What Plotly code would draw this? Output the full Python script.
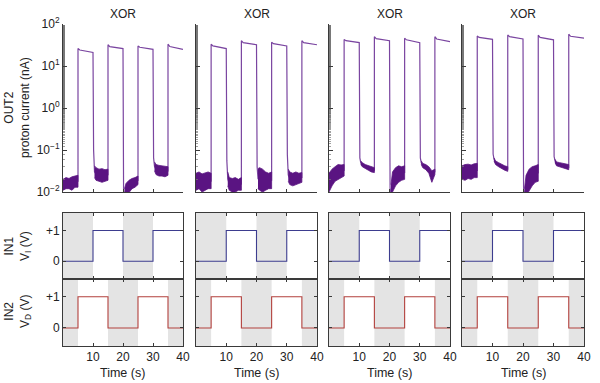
import math
import plotly.graph_objects as go

# ---------------- data ----------------
PANEL_TITLES = ["XOR", "XOR", "XOR", "XOR"]
TIME_TICKS = [10, 20, 30, 40]
LOG_TICKS = [0.01, 0.1, 1, 10, 100]
LOG_TICK_TEXT = ["10<sup>−2</sup>", "10<sup>−1</sup>", "10<sup>0</sup>", "10<sup>1</sup>", "10<sup>2</sup>"]

# inputs (step functions, value holds from T[k] to T[k+1])
IN1_T = [0, 10, 20, 30, 40]
IN1_V = [0, 1, 0, 1, 1]
IN2_T = [0, 5, 15, 25, 35, 40]
IN2_V = [0, 1, 0, 1, 0, 0]

# output current: high states
RISE_T = [5, 15, 25, 35]
FALL_T = [10, 20, 30, 40]
PEAK = [[26, 32, 30, 33], [33, 40, 37, 40], [43, 50, 46, 50], [52, 55, 54, 57]]
KNEE = [[24, 29, 28, 29], [30, 36, 34, 36], [40, 45, 42, 44], [48, 50, 48, 51]]
END = [[21, 26, 25, 25], [26, 32, 30, 32], [36, 40, 36, 38], [43, 44, 42, 46]]
TAIL = [[0.10, 0.008, 0.065], [0.055, 0.04, 0.077], [0.065, 0.008, 0.065], [0.08, 0.008, 0.07]]

# output current: noisy low states (envelope)
BAND_T = [[0, 1, 2, 3, 4, 5], [10.5, 11, 12, 13, 14, 15],
          [20.5, 21, 22, 23, 24, 25], [30.5, 31, 32, 33, 34, 35]]
BAND_HI = [
    [[0.020, 0.022, 0.021, 0.023, 0.024, 0.025], [0.042, 0.038, 0.035, 0.036, 0.034, 0.035],
     [0.012, 0.016, 0.019, 0.021, 0.022, 0.024], [0.052, 0.045, 0.043, 0.042, 0.040, 0.040]],
    [[0.028, 0.030, 0.027, 0.029, 0.030, 0.028], [0.030, 0.022, 0.021, 0.022, 0.020, 0.022],
     [0.036, 0.038, 0.035, 0.030, 0.028, 0.030], [0.035, 0.030, 0.028, 0.030, 0.028, 0.029]],
    [[0.028, 0.035, 0.040, 0.045, 0.044, 0.045], [0.055, 0.050, 0.045, 0.042, 0.040, 0.038],
     [0.015, 0.030, 0.038, 0.042, 0.040, 0.042], [0.055, 0.048, 0.045, 0.040, 0.032, 0.035]],
    [[0.042, 0.045, 0.046, 0.044, 0.047, 0.048], [0.065, 0.055, 0.050, 0.045, 0.042, 0.040],
     [0.012, 0.025, 0.035, 0.040, 0.042, 0.045], [0.060, 0.052, 0.050, 0.048, 0.046, 0.045]],
]
BAND_LO = [
    [[0.011, 0.012, 0.012, 0.011, 0.013, 0.013], [0.022, 0.019, 0.018, 0.017, 0.018, 0.019],
     [0.007, 0.008, 0.010, 0.012, 0.013, 0.015], [0.032, 0.026, 0.024, 0.024, 0.023, 0.025]],
    [[0.011, 0.012, 0.010, 0.011, 0.012, 0.012], [0.014, 0.011, 0.010, 0.010, 0.011, 0.011],
     [0.012, 0.011, 0.010, 0.011, 0.012, 0.012], [0.018, 0.015, 0.014, 0.015, 0.016, 0.017]],
    [[0.010, 0.014, 0.018, 0.020, 0.022, 0.024], [0.045, 0.040, 0.036, 0.033, 0.030, 0.029],
     [0.007, 0.010, 0.014, 0.017, 0.019, 0.020], [0.045, 0.038, 0.034, 0.028, 0.017, 0.026]],
    [[0.020, 0.019, 0.021, 0.020, 0.022, 0.022], [0.055, 0.045, 0.040, 0.036, 0.033, 0.031],
     [0.007, 0.008, 0.010, 0.014, 0.017, 0.018], [0.050, 0.042, 0.040, 0.038, 0.036, 0.034]],
]

# ---------------- layout geometry (page pixels) ----------------
W, H = 600, 383
X_PX = [(63, 183), (196, 317), (329, 450), (462, 584)]
Y_PX = [(24, 192), (213, 279), (279, 346)]
FONT = "Liberation Sans, Arial, sans-serif"
TXT = "#222222"
AXC = "#3a3a3a"
PURPLE = "#7a45a0"
BAND = "#5a1482"
BLUE = "#3d3d8f"
RED = "#b2403c"
SHADE = "#e4e4e4"


def px_x(x):
    return x / W


def px_y(y):
    return 1 - y / H


def xd(p):
    a, b = X_PX[p]
    return [px_x(a), px_x(b)]


def yd(r):
    a, b = Y_PX[r]
    return [px_y(b), px_y(a)]


fig = go.Figure()
layout = dict(template="none", width=W, height=H, margin=dict(l=0, r=0, t=0, b=0, pad=0),
              paper_bgcolor="white", plot_bgcolor="white", showlegend=False,
              font=dict(family=FONT, size=12, color=TXT))
shapes, annotations = [], []

for r in range(3):
    for p in range(4):
        i = r * 4 + p + 1
        xa = "xaxis" if i == 1 else f"xaxis{i}"
        ya = "yaxis" if i == 1 else f"yaxis{i}"
        xr = "x" if i == 1 else f"x{i}"
        yr = "y" if i == 1 else f"y{i}"
        xcfg = dict(domain=xd(p), anchor=yr, range=[0, 40], showgrid=False, zeroline=False,
                    showline=True, linecolor=AXC, linewidth=1, ticks="inside", ticklen=3,
                    tickcolor=AXC, tickvals=TIME_TICKS, showticklabels=False, fixedrange=True,
                    automargin=False)
        ycfg = dict(domain=yd(r), anchor=xr, showgrid=False, zeroline=False, showline=True,
                    linecolor=AXC, linewidth=1, ticks="inside", tickcolor=AXC, fixedrange=True,
                    automargin=False)
        if r == 0:
            ycfg.update(type="log", range=[-2, 2], tickvals=LOG_TICKS, ticktext=LOG_TICK_TEXT,
                        ticklen=4, showticklabels=(p == 0), tickfont=dict(size=12),
                        minor=dict(ticks="inside", ticklen=2, tickwidth=0.7, tickcolor="#777777",
                                   showgrid=False))
        else:
            xcfg.update(mirror="ticks")
            ycfg.update(range=[-0.58, 1.57], tickvals=[0, 1], ticktext=["0", "+1"], ticklen=3,
                        mirror="ticks", showticklabels=(p == 0), tickfont=dict(size=12))
            if r == 2:
                xcfg.update(showticklabels=True, tickfont=dict(size=12))
        layout[xa] = xcfg
        layout[ya] = ycfg

        if r == 0:
            # main trace
            lx, ly = [], []
            for s in range(4):
                if s > 0:
                    lx += [FALL_T[s - 1] + 0.2]
                    ly += [TAIL[p][s - 1]]
                lx += BAND_T[s]
                ly += [math.sqrt(h * l) for h, l in zip(BAND_HI[p][s], BAND_LO[p][s])]
                lx += [RISE_T[s], RISE_T[s] + 0.6, FALL_T[s]]
                ly += [PEAK[p][s], KNEE[p][s], END[p][s]]
            fig.add_trace(go.Scatter(x=lx, y=ly, xaxis=xr, yaxis=yr, mode="lines",
                                     line=dict(color=PURPLE, width=1.2), hoverinfo="skip"))
            # noisy bands (drawn on top of the mean line)
            bx, by = [], []
            for s in range(4):
                t = BAND_T[s]
                bx += t + t[::-1] + [None]
                by += BAND_HI[p][s] + BAND_LO[p][s][::-1] + [None]
            fig.add_trace(go.Scatter(x=bx, y=by, xaxis=xr, yaxis=yr, mode="lines",
                                     fill="toself", fillcolor=BAND,
                                     line=dict(color=BAND, width=0.8), hoverinfo="skip"))
        else:
            T, V, col = (IN1_T, IN1_V, BLUE) if r == 1 else (IN2_T, IN2_V, RED)
            for k in range(len(T) - 1):
                if V[k] == 0:
                    shapes.append(dict(type="rect", xref=xr, yref=f"{yr} domain",
                                       x0=T[k], x1=T[k + 1], y0=0, y1=1, fillcolor=SHADE,
                                       line=dict(width=0), layer="below"))
            fig.add_trace(go.Scatter(x=T, y=V, xaxis=xr, yaxis=yr, mode="lines",
                                     line=dict(color=col, width=1.1, shape="hv"),
                                     hoverinfo="skip"))

# panel titles and axis labels
for p in range(4):
    cx = px_x((X_PX[p][0] + X_PX[p][1]) / 2)
    annotations.append(dict(text=PANEL_TITLES[p], x=cx, y=px_y(14), xref="paper", yref="paper",
                            xanchor="center", yanchor="middle",
                            showarrow=False, font=dict(size=12, color=TXT)))
    annotations.append(dict(text="Time (s)", x=cx, y=px_y(373), xref="paper", yref="paper",
                            xanchor="center", yanchor="middle",
                            showarrow=False, font=dict(size=12.5, color=TXT)))

ylabels = [("OUT2<br>proton current (nA)", 108), ("IN1<br>V<sub>I</sub> (V)", 246),
           ("IN2<br>V<sub>D</sub> (V)", 312)]
for text, ypx in ylabels:
    annotations.append(dict(text=text, x=px_x(17), y=px_y(ypx), xref="paper", yref="paper",
                            xanchor="center", yanchor="middle",
                            showarrow=False, textangle=-90, font=dict(size=12, color=TXT)))

layout["shapes"] = shapes
layout["annotations"] = annotations
fig.update_layout(**layout)
fig.write_html("out.html", config={"displayModeBar": False, "staticPlot": True},
               post_script="document.body.style.margin='0';document.body.style.overflow='hidden';")
